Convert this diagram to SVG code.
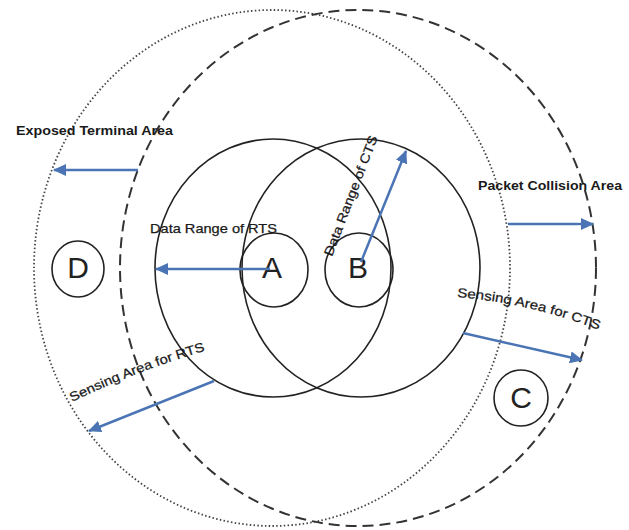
<svg xmlns="http://www.w3.org/2000/svg" width="629" height="530" viewBox="0 0 629 530">
  <style>
    .solid { fill: none; stroke: #222; stroke-width: 1.6; }
    .dashed { fill: none; stroke: #333; stroke-width: 2; stroke-dasharray: 11 6; }
    .dotted { fill: none; stroke: #444; stroke-width: 1.8; stroke-dasharray: 1.5 2.3; }
    .arrow { fill: none; stroke: #4a74b4; stroke-width: 2.5; marker-end: url(#head); }
    .lbl { font-family: "Liberation Sans", Arial, sans-serif; font-size: 13px; fill: #1a1a1a; stroke: #1a1a1a; stroke-width: 0.25; }
    .bold { font-weight: bold; stroke-width: 0; }
    .letter { font-family: "Liberation Sans", Arial, sans-serif; font-size: 30px; fill: #222; text-anchor: middle; }
  </style>
  <defs>
    <marker id="head" markerUnits="userSpaceOnUse" markerWidth="14" markerHeight="12" refX="12" refY="6" orient="auto">
      <path d="M0,0 L13,6 L0,12 Z" fill="#4a74b4"/>
    </marker>
    <path id="pCTS" d="M457,297 Q530,303 602,331"/>
    <path id="pRTS" d="M72,402 Q138,370 208,350"/>
  </defs>
  <rect width="629" height="530" fill="#fff"/>

  <g id="area-dotted"><ellipse class="dotted" cx="272" cy="268" rx="238" ry="258"/></g>
  <g id="area-dashed"><ellipse class="dashed" cx="358" cy="268" rx="238" ry="258"/></g>
  <g id="range-A"><ellipse class="solid" cx="273" cy="268" rx="118" ry="129"/></g>
  <g id="range-B"><ellipse class="solid" cx="361" cy="268" rx="119" ry="129"/></g>

  <g id="node-A">
    <ellipse class="solid" cx="274" cy="270" rx="34" ry="37"/>
    <text class="letter" x="272" y="278">A</text>
  </g>
  <g id="node-B">
    <ellipse class="solid" cx="359" cy="270" rx="34" ry="37"/>
    <text class="letter" x="358" y="278">B</text>
  </g>
  <g id="node-C">
    <ellipse class="solid" cx="521" cy="398" rx="27" ry="28"/>
    <text class="letter" x="521" y="408">C</text>
  </g>
  <g id="node-D">
    <ellipse class="solid" cx="78" cy="269" rx="26" ry="28"/>
    <text class="letter" x="78" y="278">D</text>
  </g>

  <g id="connectors">
    <line class="arrow" x1="138" y1="170" x2="54" y2="170"/>
    <line class="arrow" x1="270" y1="269" x2="156" y2="269"/>
    <line class="arrow" x1="361" y1="262" x2="406" y2="151"/>
    <line class="arrow" x1="508" y1="224" x2="593" y2="224"/>
    <line class="arrow" x1="463" y1="333" x2="582" y2="360"/>
    <line class="arrow" x1="214" y1="381" x2="89" y2="431"/>
  </g>

  <g id="labels">
    <text class="lbl bold" x="16" y="135" textLength="157" lengthAdjust="spacingAndGlyphs">Exposed Terminal Area</text>
    <text class="lbl" x="150" y="233" textLength="127" lengthAdjust="spacingAndGlyphs">Data Range of RTS</text>
    <text class="lbl" transform="translate(332,257) rotate(-69)" textLength="128" lengthAdjust="spacingAndGlyphs">Data Range of CTS</text>
    <text class="lbl bold" x="478" y="190" textLength="144" lengthAdjust="spacingAndGlyphs">Packet Collision Area</text>
    <text class="lbl"><textPath href="#pCTS" textLength="146" lengthAdjust="spacingAndGlyphs">Sensing Area for CTS</textPath></text>
    <text class="lbl"><textPath href="#pRTS" textLength="143" lengthAdjust="spacingAndGlyphs">Sensing Area for RTS</textPath></text>
  </g>
</svg>
